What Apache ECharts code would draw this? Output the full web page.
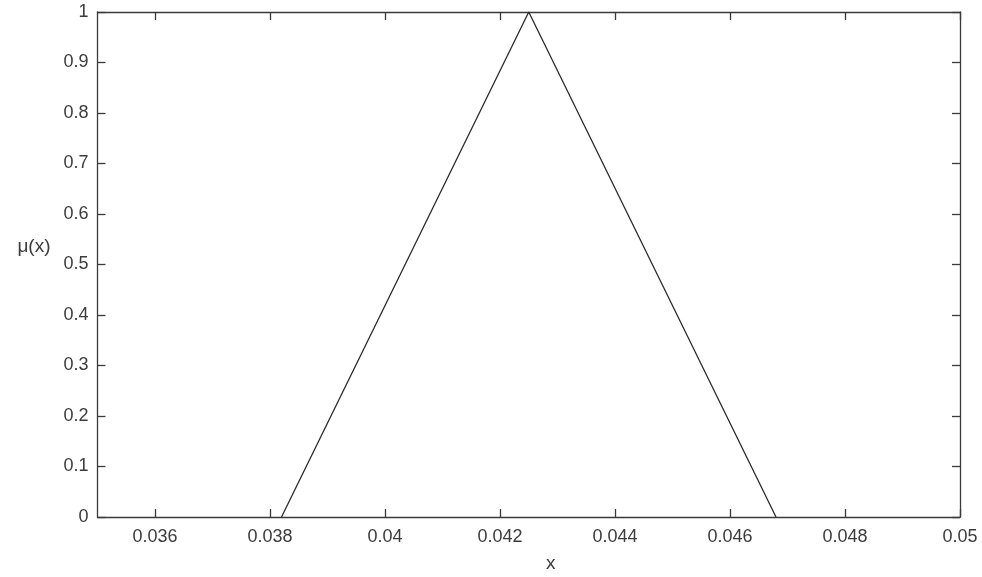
<!DOCTYPE html>
<html><head><meta charset="utf-8">
<script src="https://cdn.jsdelivr.net/npm/echarts@6/dist/echarts.min.js"></script>
<style>html,body{margin:0;padding:0;background:#fff}#c{width:982px;height:577px}</style>
</head><body><div id="c"></div>
<script>
const xValues = [0.0382, 0.0425, 0.0468];
const muValues = [0, 1, 0];
const xTicks = [0.036, 0.038, 0.04, 0.042, 0.044, 0.046, 0.048, 0.05];
const yTicks = [0, 0.1, 0.2, 0.3, 0.4, 0.5, 0.6, 0.7, 0.8, 0.9, 1];

const axisColor = '#3a3a3a';
const textColor = '#3c3c3c';
const font = 'Liberation Sans, Arial, sans-serif';
const fmt = v => String(Math.round(v * 1000) / 1000);

const chart = echarts.init(document.getElementById('c'), null, {renderer: 'canvas'});
const lineStyle = {color: axisColor, width: 1.3};
const xCommon = {
  type: 'value', min: 0.035, max: 0.05,
  axisLine: {show: true, onZero: false, lineStyle},
  splitLine: {show: false}
};
const yCommon = {
  type: 'value', min: 0, max: 1, interval: 0.1,
  axisLine: {show: true, onZero: false, lineStyle},
  splitLine: {show: false}
};
chart.setOption({
  animation: false,
  grid: {left: 97.5, right: 22, top: 12, bottom: 60, containLabel: false, outerBoundsMode: 'none'},
  xAxis: [
    Object.assign({}, xCommon, {
      position: 'bottom',
      name: 'x', nameLocation: 'middle', nameGap: 37,
      nameTextStyle: {color: textColor, fontSize: 19, fontFamily: font, padding: [0, 0, 0, 44]},
      axisTick: {show: true, inside: true, length: 8, customValues: xTicks, lineStyle},
      axisLabel: {show: true, margin: 11, color: textColor, fontSize: 18, fontFamily: font,
        customValues: xTicks, formatter: v => fmt(v)}
    }),
    Object.assign({}, xCommon, {
      position: 'top',
      axisTick: {show: true, inside: true, length: 8, customValues: xTicks, lineStyle},
      axisLabel: {show: false}
    })
  ],
  yAxis: [
    Object.assign({}, yCommon, {
      position: 'left',
      name: 'μ(x)', nameLocation: 'middle', nameGap: 47, nameRotate: 0,
      nameTextStyle: {color: textColor, fontSize: 19, fontFamily: font, verticalAlign: 'bottom', padding: [0, 0, 8, 0]},
      axisTick: {show: true, inside: true, length: 8, customValues: yTicks, lineStyle},
      axisLabel: {show: true, margin: 9, color: textColor, fontSize: 18, fontFamily: font,
        customValues: yTicks, formatter: v => fmt(v)}
    }),
    Object.assign({}, yCommon, {
      position: 'right',
      axisTick: {show: true, inside: true, length: 8, customValues: yTicks, lineStyle},
      axisLabel: {show: false}
    })
  ],
  series: [{
    type: 'line',
    data: xValues.map((x, i) => [x, muValues[i]]),
    showSymbol: false,
    lineStyle: {color: '#2a2a2a', width: 1.3},
    clip: false
  }]
});
</script></body></html>
